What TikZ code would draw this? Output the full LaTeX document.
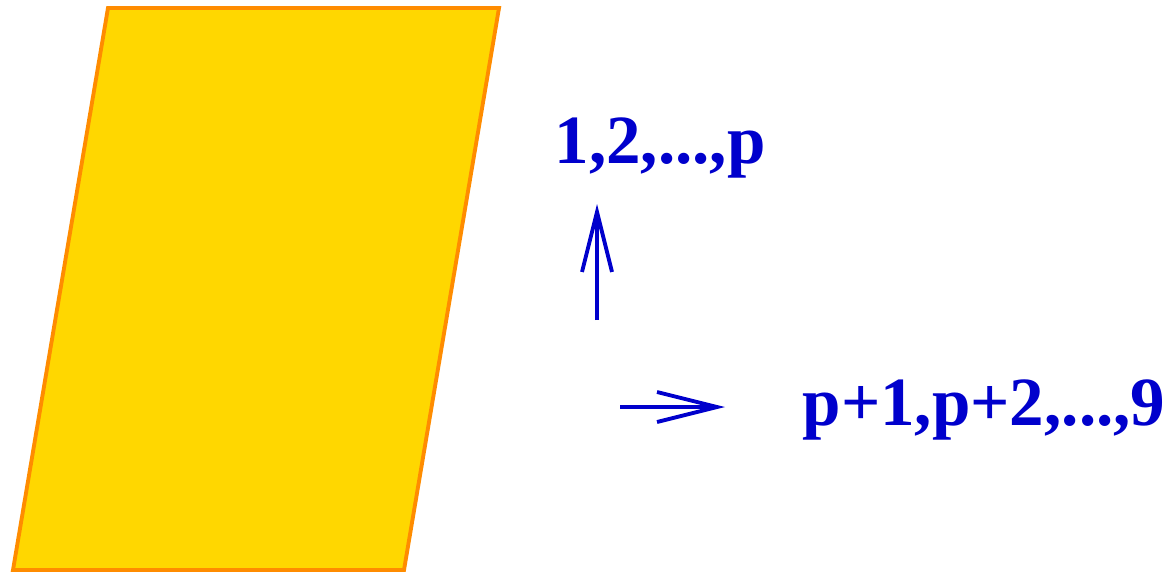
\documentclass[tikz,border=0pt]{standalone}
\usepackage{fontspec}
\setmainfont{Liberation Serif}
\usetikzlibrary{arrows.meta}

\definecolor{planeGold}{HTML}{FFD700}
\definecolor{planeEdge}{HTML}{FF8C00}
\definecolor{labelBlue}{HTML}{0000CC}

\begin{document}
\begin{tikzpicture}[
    idxlabel/.style={inner sep=0pt,text=labelBlue,font=\bfseries\fontsize{39.3}{44}\selectfont},
    idxarrow/.style={draw=labelBlue,line width=2.2pt,-{Straight Barb[length=1.2cm,width=0.6cm,line width=2.2pt]}}]
  \useasboundingbox (0,0) rectangle (23.38,-11.46);

  % the plane
  \path[draw=planeEdge,fill=planeGold,line width=2.2pt]
    (2.16,-0.16) -- (9.98,-0.16) -- (8.08,-11.4) -- (0.26,-11.4) -- cycle;

  \node[idxlabel] (first) at (13.2,-2.96) {1,2,...,p};
  \node[idxlabel] (rest) at (19.68,-8.2) {p+1,p+2,...,9};

  \coordinate (upTail) at (11.94,-6.4);
  \coordinate (upTip) at (11.94,-4.08);
  \coordinate (rightTail) at (12.4,-8.14);
  \coordinate (rightTip) at (14.5,-8.14);

  \draw[idxarrow] (upTail) -- (upTip);
  \draw[idxarrow] (rightTail) -- (rightTip);
\end{tikzpicture}
\end{document}
